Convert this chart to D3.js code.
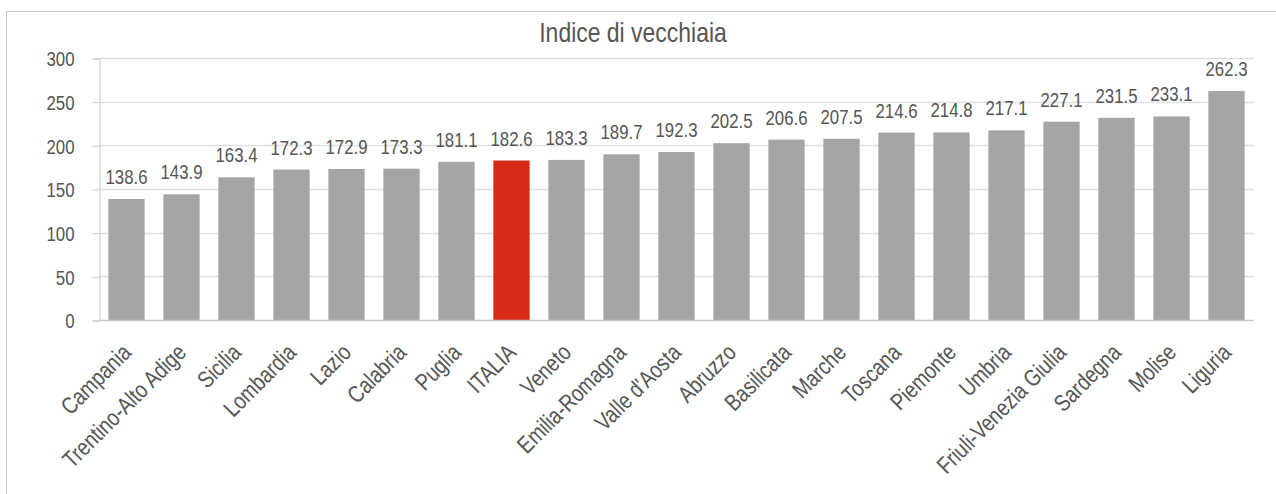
<!DOCTYPE html>
<html>
<head>
<meta charset="utf-8">
<script src="https://cdn.jsdelivr.net/npm/d3@7"></script>
<style>
  body { margin: 0; background: #fff; }
  svg text { font-family: "Liberation Sans", Arial, sans-serif; fill: #555555; }
</style>
</head>
<body>
<svg id="chart"></svg>
<script>
// Regions, sorted by value
var regions = ['Campania', 'Trentino-Alto Adige', 'Sicilia', 'Lombardia', 'Lazio', 'Calabria', 'Puglia',
    'ITALIA', 'Veneto', 'Emilia-Romagna', "Valle d'Aosta", 'Abruzzo', 'Basilicata', 'Marche', 'Toscana',
    'Piemonte', 'Umbria', 'Friuli-Venezia Giulia', 'Sardegna', 'Molise', 'Liguria'];
var values = [138.6, 143.9, 163.4, 172.3, 172.9, 173.3, 181.1, 182.6, 183.3, 189.7, 192.3, 202.5,
    206.6, 207.5, 214.6, 214.8, 217.1, 227.1, 231.5, 233.1, 262.3];
var yTicks = [0, 50, 100, 150, 200, 250, 300];
var highlight = 'ITALIA';

var width = 1276, height = 494;
var margin = { left: 99, right: 22, top: 58, bottom: 174 };
var narrow = 0.82; // squeeze Liberation Sans to look like Arial Narrow

var svg = d3.select("#chart")
    .attr("width", width)
    .attr("height", height);

var data = regions.map(function(r, i) { return { name: r, value: values[i] }; });

// Chart frame (right/bottom edges fall outside the picture)
svg.append("rect")
    .attr("x", 6.5)
    .attr("y", 11.5)
    .attr("width", width + 10)
    .attr("height", height + 10)
    .style("fill", "none")
    .style("stroke", "#c8c8c8");

var x = d3.scaleBand()
    .domain(regions)
    .range([margin.left, width - margin.right])
    .paddingInner(0.34)
    .paddingOuter(0.17);

var y = d3.scaleLinear()
    .domain([0, 300])
    .range([height - margin.bottom, margin.top]);

// Gridlines
svg.selectAll(".grid")
    .data(yTicks.slice(1))
    .enter().append("line")
    .attr("class", "grid")
    .attr("x1", margin.left)
    .attr("x2", width - margin.right)
    .attr("y1", function(d) { return Math.round(y(d)) + 0.5; })
    .attr("y2", function(d) { return Math.round(y(d)) + 0.5; })
    .style("stroke", "#e0e0e0")
    .style("stroke-width", 1.5);

// Y axis
var yAxis = svg.append("g")
    .attr("transform", "translate(" + (margin.left + 0.5) + ",0.5)")
    .call(d3.axisLeft(y).tickValues(yTicks).tickSize(7));
yAxis.select(".domain").style("stroke", "#c8c8c8");
yAxis.selectAll(".tick line").style("stroke", "#c8c8c8");
yAxis.selectAll(".tick text")
    .attr("x", -25 / narrow)
    .attr("dy", "0.35em")
    .attr("transform", "scale(" + narrow + ",1)")
    .attr("font-family", null)
    .style("font-size", "20.5px")
    .style("fill", "#555555");

// Bars
svg.selectAll(".bar")
    .data(data)
    .enter().append("rect")
    .attr("class", "bar")
    .attr("x", function(d) { return x(d.name); })
    .attr("y", function(d) { return y(d.value); })
    .attr("width", x.bandwidth())
    .attr("height", function(d) { return y(0) - y(d.value); })
    .style("fill", function(d) { return d.name === highlight ? "#d52b17" : "#a5a5a5"; });

// X axis line
svg.append("line")
    .attr("x1", margin.left)
    .attr("x2", width - margin.right)
    .attr("y1", y(0) + 0.5)
    .attr("y2", y(0) + 0.5)
    .style("stroke", "#c8c8c8")
    .style("stroke-width", 1.5);

// Value labels
svg.selectAll(".bar-value")
    .data(data)
    .enter().append("text")
    .attr("class", "bar-value")
    .attr("transform", function(d) {
        return "translate(" + (x(d.name) + x.bandwidth() / 2) + "," + (y(d.value) - 15) + ") scale(" + narrow + ",1)";
    })
    .attr("text-anchor", "middle")
    .style("font-size", "20.5px")
    .text(function(d) { return d.value.toFixed(1); });

// Category labels, rotated
svg.selectAll(".cat-label")
    .data(data)
    .enter().append("text")
    .attr("class", "cat-label")
    .attr("text-anchor", "end")
    .attr("transform", function(d) {
        var cx = x(d.name) + x.bandwidth() / 2 + 6;
        return "translate(" + cx + "," + (y(0) + 34) + ") rotate(-45) scale(" + narrow + ",1)";
    })
    .style("font-size", "23.5px")
    .text(function(d) { return d.name; });

// Title
svg.append("text")
    .attr("transform", "translate(633,42) scale(" + narrow + ",1)")
    .attr("text-anchor", "middle")
    .style("font-size", "28px")
    .text("Indice di vecchiaia");
</script>
</body>
</html>
